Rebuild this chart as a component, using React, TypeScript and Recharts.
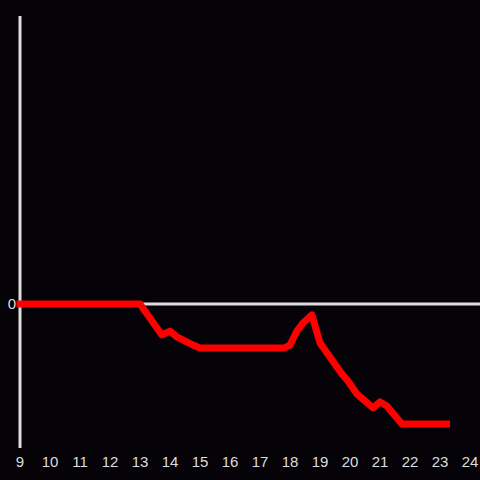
import React from 'react';
import { LineChart, Line, XAxis, YAxis, ReferenceLine } from 'recharts';

const hours = [9, 13, 13.73, 14, 14.23, 14.77, 15, 17.8, 18, 18.23, 18.43, 18.73, 19, 19.73, 19.93, 20.23, 20.77, 21, 21.23, 21.73, 23.22];
const values = [0, 0, -0.215, -0.188, -0.229, -0.285, -0.306, -0.306, -0.285, -0.188, -0.132, -0.076, -0.271, -0.486, -0.535, -0.625, -0.722, -0.68, -0.708, -0.833, -0.833];
const xTicks = [9, 10, 11, 12, 13, 14, 15, 16, 17, 18, 19, 20, 21, 22, 23, 24];
const yTicks = [0];

const data = hours.map((h, i) => ({ hour: h, value: values[i] }));

const tickStyle = { fill: '#dddddd', fontSize: 15, fontFamily: '"Liberation Sans", Arial, sans-serif' };

export default function App() {
  return (
    <div style={{ position: 'fixed', left: 0, top: 0, width: 480, height: 480, background: '#050307' }}>
      <LineChart width={480} height={480} data={data} margin={{ top: 16, right: 0, left: 0, bottom: 0 }}>
        <XAxis
          dataKey="hour"
          type="number"
          domain={[9, 24.333]}
          ticks={xTicks}
          axisLine={false}
          tickLine={false}
          height={32}
          tick={tickStyle}
          interval={0}
        />
        <YAxis
          type="number"
          domain={[-1, 2]}
          ticks={yTicks}
          width={20}
          axisLine={false}
          tickLine={false}
          tickSize={0}
          tickMargin={4}
          tick={tickStyle}
        />
        <ReferenceLine x={9} stroke="#dddddd" strokeWidth={3} />
        <ReferenceLine y={0} stroke="#dddddd" strokeWidth={3} />
        <Line
          dataKey="value"
          type="linear"
          stroke="#ff0000"
          strokeWidth={7}
          strokeLinejoin="round"
          strokeLinecap="square"
          dot={false}
          isAnimationActive={false}
        />
      </LineChart>
    </div>
  );
}
